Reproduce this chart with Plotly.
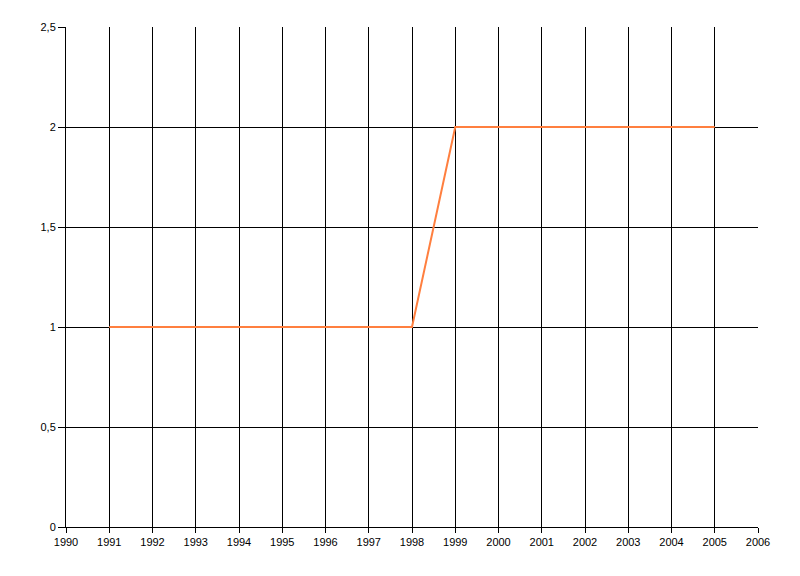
import plotly.graph_objects as go

years = list(range(1991, 2006))
values = [1, 1, 1, 1, 1, 1, 1, 1, 2, 2, 2, 2, 2, 2, 2]
x_ticks = list(range(1990, 2007))
y_ticks = [0, 0.5, 1, 1.5, 2, 2.5]
y_tick_labels = ["0", "0,5", "1", "1,5", "2", "2,5"]

fig = go.Figure()
fig.add_trace(go.Scatter(x=years, y=values, mode="lines",
                         line=dict(color="#FF7F3F", width=2), showlegend=False))

fig.update_layout(
    width=800, height=576,
    margin=dict(l=58, r=50, t=19, b=57),
    paper_bgcolor="white", plot_bgcolor="white",
    font=dict(family="Liberation Sans, Arial, sans-serif", size=11, color="black"),
)
fig.update_xaxes(range=[1990, 2006], tickvals=x_ticks, ticktext=[str(v) for v in x_ticks],
                 showgrid=True, gridcolor="black", gridwidth=1,
                 showline=True, linecolor="black", linewidth=1,
                 ticks="outside", ticklen=5, tickcolor="black", zeroline=False)
fig.update_yaxes(range=[0, 2.5], tickvals=y_ticks, ticktext=y_tick_labels,
                 showgrid=True, gridcolor="black", gridwidth=1,
                 showline=True, linecolor="black", linewidth=1,
                 ticks="outside", ticklen=7, tickcolor="black", zeroline=False)

fig.write_html("out.html")
